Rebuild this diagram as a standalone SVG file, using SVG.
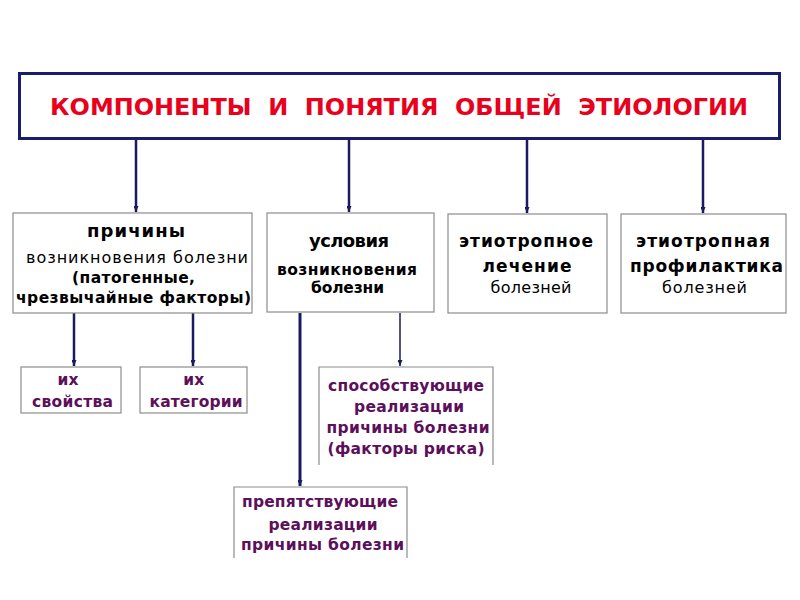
<svg xmlns="http://www.w3.org/2000/svg" width="800" height="600" viewBox="0 0 800 600">
<defs>
<marker id="ah" markerWidth="6" markerHeight="5" refX="6" refY="2.5" orient="auto" markerUnits="userSpaceOnUse">
<path d="M0,0 L6,2.5 L0,5 Z" fill="#1a1a5e"/>
</marker>
<style>
.bx{fill:#fff;stroke:#8c8c8c;stroke-width:1.2}
.ln{stroke:#1a1a5e;fill:none;marker-end:url(#ah)}
.t{font-family:"DejaVu Sans","Liberation Sans",sans-serif;text-anchor:middle;fill:#000}
.b{font-weight:bold}
.p{fill:#5c0f5a;font-weight:bold;font-size:15.5px}
</style>
</defs>
<rect width="800" height="600" fill="#fff"/>
<g id="title">
<rect x="19.5" y="73.5" width="760" height="65" fill="#fff" stroke="#1c1c6c" stroke-width="3"/>
<text class="t b" x="399" y="115" font-size="23.5" style="fill:#e8001c;white-space:pre" textLength="698" lengthAdjust="spacingAndGlyphs">КОМПОНЕНТЫ  И  ПОНЯТИЯ  ОБЩЕЙ  ЭТИОЛОГИИ</text>
</g>
<g id="connectors">
<line class="ln" x1="136" y1="140" x2="136" y2="212" stroke-width="2.5"/>
<line class="ln" x1="349" y1="140" x2="349" y2="212" stroke-width="2.5"/>
<line class="ln" x1="527" y1="140" x2="527" y2="213" stroke-width="2.5"/>
<line class="ln" x1="703" y1="140" x2="703" y2="213" stroke-width="2.5"/>
<line class="ln" x1="74" y1="313" x2="74" y2="366" stroke-width="2.5"/>
<line class="ln" x1="193" y1="313" x2="193" y2="366" stroke-width="2.5"/>
<line class="ln" x1="300" y1="313" x2="300" y2="486" stroke-width="3"/>
<line class="ln" x1="400" y1="313" x2="400" y2="366" stroke-width="1.5"/>
</g>
<g id="n1">
<rect class="bx" x="13" y="213" width="239" height="100"/>
<text class="t b" x="136" y="237" font-size="18" textLength="98">причины</text>
<text class="t" x="137" y="263" font-size="16" textLength="222">возникновения болезни</text>
<text class="t b" x="133.5" y="283" font-size="15.5" textLength="123">(патогенные,</text>
<text class="t b" x="133.5" y="303" font-size="15.5" textLength="235">чрезвычайные факторы)</text>
</g>
<g id="n2">
<rect class="bx" x="267" y="213" width="167" height="99"/>
<text class="t b" x="349" y="247" font-size="18" textLength="80">условия</text>
<text class="t b" x="347" y="275" font-size="15.5" textLength="140">возникновения</text>
<text class="t b" x="347.5" y="293" font-size="15.5" textLength="73">болезни</text>
</g>
<g id="n3">
<rect class="bx" x="448" y="214" width="159" height="99"/>
<text class="t b" x="526" y="247" font-size="17" textLength="134">этиотропное</text>
<text class="t b" x="527" y="272" font-size="17" textLength="89">лечение</text>
<text class="t" x="531" y="293" font-size="16" textLength="81">болезней</text>
</g>
<g id="n4">
<rect class="bx" x="621" y="214" width="165" height="99"/>
<text class="t b" x="703" y="247" font-size="17" textLength="134">этиотропная</text>
<text class="t b" x="706.5" y="272" font-size="17" textLength="153">профилактика</text>
<text class="t" x="704.5" y="293" font-size="16" textLength="85">болезней</text>
</g>
<g id="n5">
<rect class="bx" x="21" y="367" width="100" height="46"/>
<text class="t p" x="68" y="385">их</text>
<text class="t p" x="72.5" y="407" textLength="81">свойства</text>
</g>
<g id="n6">
<rect class="bx" x="140" y="367" width="107" height="46"/>
<text class="t p" x="193.7" y="385">их</text>
<text class="t p" x="196" y="407" textLength="93">категории</text>
</g>
<g id="n7">
<path class="bx" d="M319,465 V367 H493 V465"/>
<text class="t p" x="406" y="391" textLength="156">способствующие</text>
<text class="t p" x="409" y="412" textLength="110">реализации</text>
<text class="t p" x="408" y="433" textLength="163">причины болезни</text>
<text class="t p" x="406" y="454" textLength="157">(факторы риска)</text>
</g>
<g id="n8">
<path class="bx" d="M234,558 V487 H407 V558"/>
<text class="t p" x="320" y="507" textLength="156">препятствующие</text>
<text class="t p" x="323" y="530" textLength="109">реализации</text>
<text class="t p" x="322.5" y="550" textLength="163">причины болезни</text>
</g>
</svg>
